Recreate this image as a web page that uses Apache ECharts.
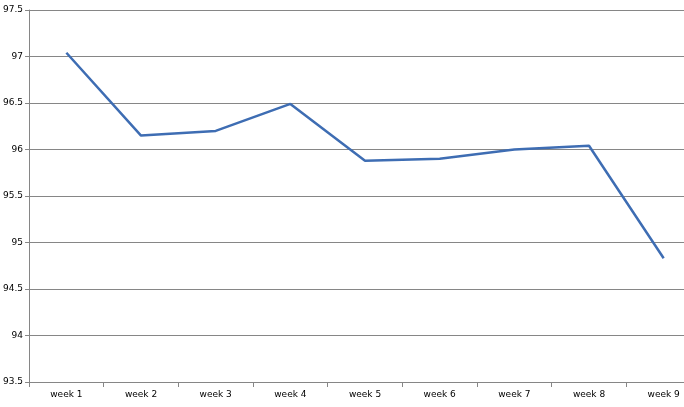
<!DOCTYPE html>
<html><head><meta charset="utf-8">
<script src="https://cdn.jsdelivr.net/npm/echarts@6/dist/echarts.min.js"></script>
<style>html,body{margin:0;padding:0;background:#fff;overflow:hidden;width:684px;height:407px}#c{width:701px;height:407px}</style>
</head><body><div id="c"></div>
<script>
var categories = ['week 1','week 2','week 3','week 4','week 5','week 6','week 7','week 8','week 9'];
var values = [97.04, 96.15, 96.2, 96.49, 95.88, 95.9, 96.0, 96.04, 94.83];
var chart = echarts.init(document.getElementById('c'));
chart.setOption({
  animation: false,
  grid: {left: 28, right: 0, top: 10, bottom: 25, containLabel: false},
  xAxis: {
    type: 'category', data: categories, boundaryGap: true,
    axisLine: {lineStyle: {color: '#868686', width: 1}},
    axisTick: {show: true, length: 5, lineStyle: {color: '#868686'}},
    axisLabel: {color: '#000', fontFamily: 'DejaVu Sans', fontSize: 9, margin: 8}
  },
  yAxis: {
    type: 'value', min: 93.5, max: 97.5, interval: 0.5,
    axisLine: {show: true, lineStyle: {color: '#868686'}},
    axisTick: {show: true, length: 4, lineStyle: {color: '#868686'}},
    splitLine: {lineStyle: {color: '#868686', width: 1}},
    axisLabel: {color: '#000', fontFamily: 'DejaVu Sans', fontSize: 9, margin: 6}
  },
  series: [{
    type: 'line', data: values, symbol: 'none',
    lineStyle: {color: '#3e6db3', width: 2.5}
  }]
});
</script></body></html>
